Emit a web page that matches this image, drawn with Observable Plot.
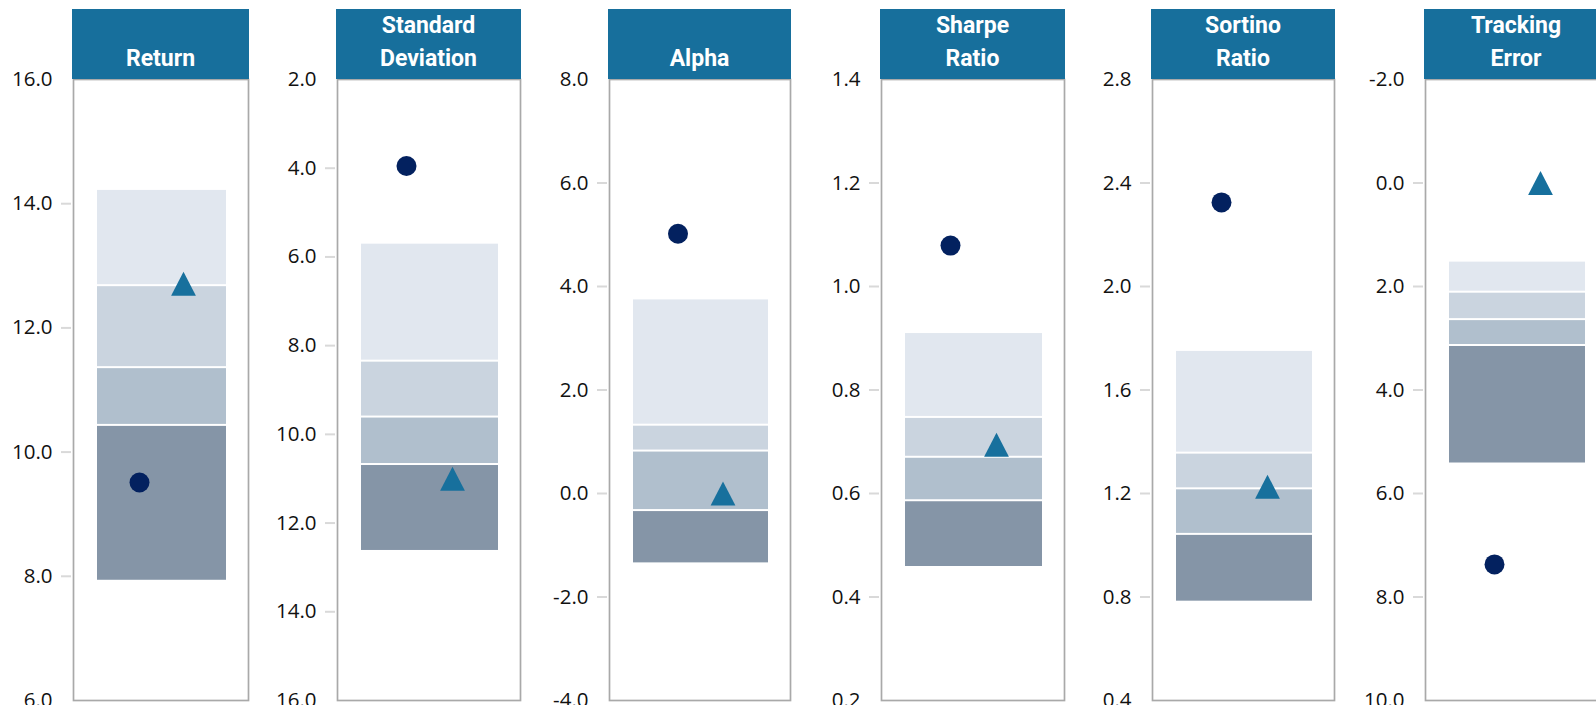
<!DOCTYPE html>
<html>
<head>
<meta charset="utf-8">
<script src="https://cdn.jsdelivr.net/npm/d3@7"></script>
<script src="https://cdn.jsdelivr.net/npm/@observablehq/plot@0.6"></script>
<style>
  html, body { margin: 0; padding: 0; background: #fff; }
  #chart { position: relative; width: 1596px; height: 705px; overflow: hidden; }
  .panel { position: absolute; top: 0; }
  .panel svg { display: block; overflow: visible; max-width: none !important; }
  .header {
    position: absolute; top: 9px; height: 70px; box-sizing: border-box;
    background: #176f9c; color: #fff;
    font-family: Roboto, sans-serif; font-weight: 700; font-size: 23px; line-height: 33px;
    text-align: center; white-space: pre-line;
    display: flex; flex-direction: column; justify-content: flex-end; padding-bottom: 3.7px;
    z-index: 2;
  }
</style>
</head>
<body>
<div id="chart"></div>
<script>
// ---------- data ----------
const metricNames = ["Return", "Standard\nDeviation", "Alpha", "Sharpe\nRatio", "Sortino\nRatio", "Tracking\nError"];
const seriesNames = ["Fund", "Benchmark"];

// quartile boundaries, listed from the top of each panel to the bottom
const returnBreaks   = [14.23, 12.68, 11.36, 10.43, 7.92];
const sdBreaks       = [5.69, 8.35, 9.61, 10.68, 12.64];
const alphaBreaks    = [3.76, 1.32, 0.82, -0.33, -1.36];
const sharpeBreaks   = [0.911, 0.747, 0.670, 0.586, 0.457];
const sortinoBreaks  = [1.753, 1.356, 1.218, 1.042, 0.78];
const trackingBreaks = [1.51, 2.11, 2.64, 3.14, 5.43];

const fundValues      = [9.51, 3.95, 5.02, 1.079, 2.325, 7.37];
const benchmarkValues = [12.71, 11.0, 0.0, 0.694, 1.226, 0.0];

const returnTicks   = [6, 8, 10, 12, 14, 16];
const sdTicks       = [2, 4, 6, 8, 10, 12, 14, 16];
const alphaTicks    = [-4, -2, 0, 2, 4, 6, 8];
const sharpeTicks   = [0.2, 0.4, 0.6, 0.8, 1.0, 1.2, 1.4];
const sortinoTicks  = [0.4, 0.8, 1.2, 1.6, 2.0, 2.4, 2.8];
const trackingTicks = [-2, 0, 2, 4, 6, 8, 10];
const invertedAxis  = [false, true, false, false, false, true];

// ---------- styling / layout ----------
const quartileColors = ["#e1e7ef", "#cad4df", "#b0bfcd", "#8595a7"];
const fundColor = "#03215f";
const benchColor = "#17709d";
const boxLefts  = [73, 337, 609, 881, 1152, 1425];
const boxWidths = [175, 183, 181, 183, 182, 182];
const axisSpace = 73;

const breakSets = [returnBreaks, sdBreaks, alphaBreaks, sharpeBreaks, sortinoBreaks, trackingBreaks];
const tickSets  = [returnTicks, sdTicks, alphaTicks, sharpeTicks, sortinoTicks, trackingTicks];

const triangleSymbol = {
  draw(ctx, size) {
    const r = Math.sqrt(size / Math.PI);
    const w = r * 1.24, h = r * 1.2;
    ctx.moveTo(0, -h); ctx.lineTo(w, h); ctx.lineTo(-w, h); ctx.closePath();
  }
};

const container = document.getElementById("chart");
const fmt = d => d.toFixed(1);

metricNames.forEach((name, i) => {
  const ticks = tickSets[i];
  const lo = d3.min(ticks), hi = d3.max(ticks);
  const domain = invertedAxis[i] ? [hi, lo] : [lo, hi];
  const b = breakSets[i];
  const segs = d3.range(4).map(q => ({q, y1: b[q], y2: b[q + 1]}));
  const interior = ticks.filter(t => t !== lo && t !== hi);
  const w = axisSpace + boxWidths[i] + 2;

  const plot = Plot.plot({
    width: w,
    height: 705,
    marginLeft: axisSpace, marginRight: 2, marginTop: 79, marginBottom: 5,
    style: {fontFamily: "'Open Sans', sans-serif", background: "transparent", overflow: "visible", maxWidth: "none"},
    x: {type: "band", domain: seriesNames, paddingInner: 0, paddingOuter: 0.976, align: 0.51, axis: null},
    y: {domain, axis: null},
    color: {type: "ordinal", domain: [0, 1, 2, 3], range: quartileColors},
    marks: [
      Plot.frame({stroke: "#a9a9a9", strokeWidth: 1.7}),
      Plot.rect(segs, {y1: "y1", y2: "y2", fill: "q", insetLeft: 24, insetRight: 22, insetTop: 1, insetBottom: 1}),
      Plot.axisY(interior, {anchor: "left", tickSize: 10, dx: -2, tickFormat: () => "", stroke: "#d9d9d9", strokeWidth: 2, label: null}),
      Plot.axisY(ticks, {anchor: "left", tickSize: 0, tickPadding: 21, tickFormat: fmt, fontSize: 20.5, color: "#111", label: null}),
      Plot.dot([fundValues[i]], {x: () => seriesNames[0], y: d => d, r: 10, fill: fundColor}),
      Plot.dot([benchmarkValues[i]], {x: () => seriesNames[1], y: d => d, r: 10, symbol: triangleSymbol, fill: benchColor})
    ]
  });
  plot.setAttribute("width", w);
  plot.setAttribute("height", 705);
  plot.style.width = w + "px";
  plot.style.height = "705px";

  const panel = document.createElement("div");
  panel.className = "panel";
  panel.style.left = (boxLefts[i] - axisSpace) + "px";
  panel.style.width = w + "px";
  panel.appendChild(plot);
  container.appendChild(panel);

  const header = document.createElement("div");
  header.className = "header";
  header.style.left = (boxLefts[i] - 0.75) + "px";
  header.style.width = (boxWidths[i] + 1.5) + "px";
  const inner = document.createElement("div");
  inner.textContent = name;
  header.appendChild(inner);
  container.appendChild(header);
});
</script>
</body>
</html>
